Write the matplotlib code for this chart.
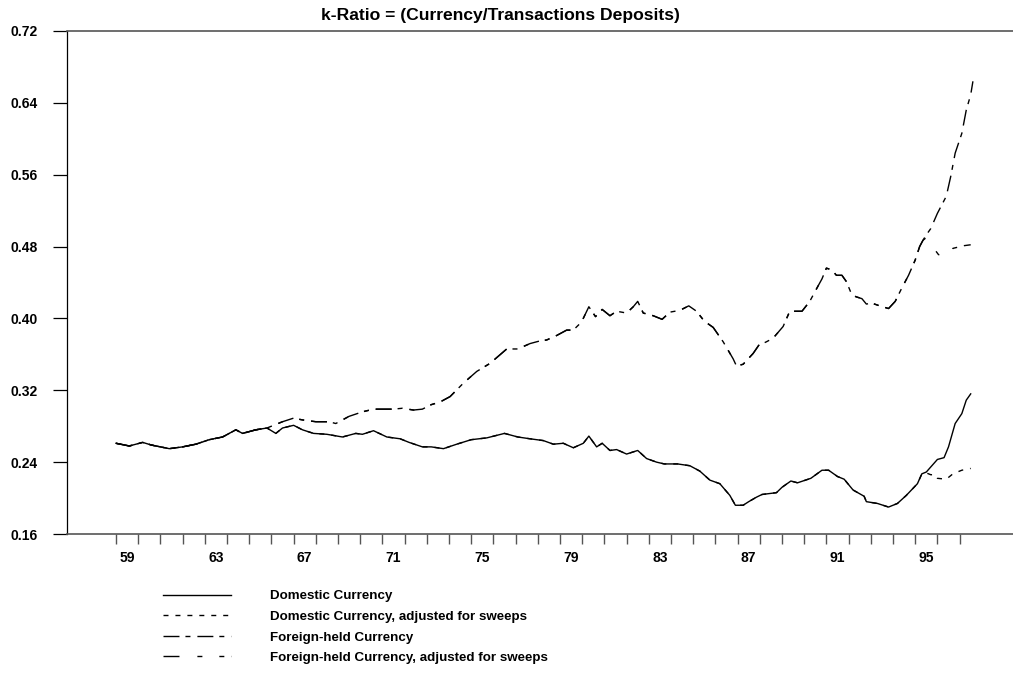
import matplotlib
matplotlib.use('Agg')
import matplotlib.pyplot as plt
import numpy as np

plt.rcParams['font.family'] = ['Liberation Sans', 'DejaVu Sans']
plt.rcParams['font.weight'] = 'bold'

# Domestic Currency (whole history)
dom_years = [59.0, 59.6, 60.2, 60.6, 61.0, 61.4, 62.0, 62.6, 63.2, 63.8, 64.4, 64.7,
             65.3, 65.8, 66.2, 66.5, 67.0, 67.4, 67.9, 68.5, 69.2, 69.8, 70.1, 70.6,
             71.2, 71.8, 72.2, 72.8, 73.2, 73.75, 74.35, 75.0, 75.7, 76.5, 77.1, 77.65,
             78.25, 78.7, 79.15, 79.6, 80.05, 80.3, 80.65, 80.9, 81.25, 81.55, 82.0, 82.5,
             82.9, 83.35, 83.7, 84.3, 84.85, 85.3, 85.75, 86.2, 86.65, 86.9, 87.25, 87.5,
             87.85, 88.1, 88.75, 89.0, 89.4, 89.7, 90.3, 90.8, 91.1, 91.5, 91.8, 92.2,
             92.7, 92.8, 93.3, 93.8, 94.2, 94.6, 95.1, 95.3, 95.5, 96.0, 96.3, 96.5,
             96.8, 97.1, 97.3, 97.5]
dom_vals = [0.261, 0.258, 0.262, 0.259, 0.257, 0.255, 0.257, 0.260, 0.265, 0.268, 0.276, 0.272,
            0.276, 0.278, 0.272, 0.278, 0.281, 0.276, 0.272, 0.271, 0.268, 0.272, 0.271, 0.275,
            0.268, 0.266, 0.262, 0.257, 0.257, 0.255, 0.260, 0.265, 0.267, 0.272, 0.268, 0.266,
            0.264, 0.260, 0.261, 0.256, 0.261, 0.269, 0.257, 0.261, 0.253, 0.254, 0.249, 0.253,
            0.244, 0.240, 0.238, 0.238, 0.236, 0.230, 0.220, 0.216, 0.203, 0.192, 0.192, 0.196,
            0.201, 0.204, 0.206, 0.212, 0.219, 0.217, 0.222, 0.231, 0.231, 0.224, 0.221, 0.209,
            0.202, 0.196, 0.194, 0.190, 0.194, 0.203, 0.216, 0.227, 0.229, 0.243, 0.245, 0.257,
            0.283, 0.294, 0.309, 0.316]

# Domestic Currency, adjusted for sweeps: departs after mid-1995
dom_adj_split = 95.3
dom_adj_tail_years = [95.5, 95.7, 95.9, 96.0, 96.4, 96.7, 97.1, 97.5]
dom_adj_tail_vals = [0.228, 0.226, 0.226, 0.222, 0.221, 0.227, 0.231, 0.233]

# Foreign-held Currency: same as domestic until 1965, then above
for_split = 65.8
for_years = [66.0, 66.5, 67.0, 67.4, 68.0, 68.6, 68.9, 69.5, 70.1, 70.6, 71.0, 71.5,
             71.9, 72.4, 72.8, 73.2, 73.6, 74.05, 74.65, 75.25, 75.85, 76.6, 77.1, 77.65,
             78.1, 78.4, 78.85, 79.3, 79.6, 79.97, 80.3, 80.6, 80.9, 81.25, 81.55, 82.0,
             82.3, 82.5, 82.75, 83.2, 83.6, 83.95, 84.4, 84.8, 85.15, 85.5, 85.9, 86.35,
             86.8, 86.95, 87.25, 87.7, 87.95, 88.3, 88.6, 89.05, 89.35, 89.9, 90.25, 90.6,
             90.8, 91.0, 91.25, 91.45, 91.7, 91.9, 92.15, 92.35, 92.6, 92.8, 93.05, 93.4,
             93.8, 94.1, 94.4, 94.7, 95.0, 95.2, 95.35, 95.5, 95.7, 96.0, 96.4, 96.6,
             96.8, 97.1, 97.3, 97.5, 97.6]
for_vals = [0.280, 0.285, 0.289, 0.287, 0.285, 0.285, 0.283, 0.291, 0.296, 0.299, 0.299, 0.299,
            0.300, 0.298, 0.299, 0.304, 0.307, 0.313, 0.328, 0.341, 0.350, 0.366, 0.366, 0.372,
            0.375, 0.376, 0.381, 0.387, 0.387, 0.396, 0.413, 0.402, 0.410, 0.403, 0.408, 0.406,
            0.413, 0.419, 0.406, 0.403, 0.399, 0.407, 0.409, 0.414, 0.408, 0.397, 0.390, 0.374,
            0.355, 0.347, 0.349, 0.361, 0.370, 0.374, 0.378, 0.391, 0.408, 0.408, 0.419, 0.435,
            0.444, 0.456, 0.454, 0.448, 0.448, 0.441, 0.426, 0.424, 0.422, 0.416, 0.417, 0.414,
            0.411, 0.419, 0.434, 0.448, 0.465, 0.480, 0.487, 0.493, 0.500, 0.517, 0.536, 0.558,
            0.584, 0.606, 0.632, 0.649, 0.664]

# Foreign-held Currency, adjusted for sweeps: departs after mid-1995
for_adj_split = 95.35
for_adj_tail_years = [95.5, 95.7, 95.9, 96.05, 96.5, 96.7, 97.2, 97.5]
for_adj_tail_vals = [0.490, 0.484, 0.476, 0.471, 0.470, 0.478, 0.481, 0.482]

labels = ['Domestic Currency',
          'Domestic Currency, adjusted for sweeps',
          'Foreign-held Currency',
          'Foreign-held Currency, adjusted for sweeps']
year_ticks = list(range(59, 98))
year_labels = ['59', '63', '67', '71', '75', '79', '83', '87', '91', '95']
y_ticks = [0.16, 0.24, 0.32, 0.40, 0.48, 0.56, 0.64, 0.72]

# build the composite series
dy = np.array(dom_years)
dv = np.array(dom_vals)
m = dy <= dom_adj_split
dadj_x = np.concatenate([dy[m], dom_adj_tail_years])
dadj_y = np.concatenate([dv[m], dom_adj_tail_vals])
m = dy <= for_split
fx = np.concatenate([dy[m], for_years])
fy = np.concatenate([dv[m], for_vals])
m = fx <= for_adj_split
fadj_x = np.concatenate([fx[m], for_adj_tail_years])
fadj_y = np.concatenate([fy[m], for_adj_tail_vals])

fig = plt.figure(figsize=(10.13, 6.85), dpi=100)
ax = fig.add_axes([67/1013, 151/685, 946/1013, 503/685])

lw = 1.0
ax.plot(dy, dv, color='black', lw=lw, label=labels[0])
ax.plot(dadj_x, dadj_y, color='black', lw=lw, dashes=(3.6, 5), label=labels[1])
ax.plot(fx, fy, color='black', lw=lw, dashes=(11.5, 4.3, 3.6, 5), label=labels[2])
ax.plot(fadj_x, fadj_y, color='black', lw=lw, dashes=(11.5, 12.9, 3.6, 12.2, 3.6, 5),
        label=labels[3])

ax.set_xlim(59 - 49/22.2, 59 + 897/22.2)
ax.set_ylim(0.16, 0.72)

ax.spines['right'].set_visible(False)
ax.spines['top'].set_color('#555555')
ax.spines['top'].set_linewidth(1.2)
ax.spines['bottom'].set_color('#555555')
ax.spines['bottom'].set_linewidth(1.2)
ax.spines['left'].set_linewidth(0.9)

ax.set_yticks(y_ticks)
ax.set_yticklabels(['%.2f' % v for v in y_ticks], fontsize=10, fontweight='bold')
ax.tick_params(axis='y', direction='out', length=10, width=0.9, pad=11)

ax.set_xticks(year_ticks)
ax.set_xticklabels([])
ax.tick_params(axis='x', which='major', direction='out', length=7, width=1, color='#555555')
ax.set_xticks([int(s) + 0.5 for s in year_labels], minor=True)
ax.set_xticklabels(year_labels, minor=True, fontsize=10, fontweight='bold')
ax.tick_params(axis='x', which='minor', length=0, pad=12)

fig.text(500/1013, 1 - 20/685, 'k-Ratio = (Currency/Transactions Deposits)',
         ha='center', va='baseline', fontsize=12.6, fontweight='bold')

ax.legend(loc='upper left', bbox_to_anchor=(163/1013, 1 - 590/685),
          bbox_transform=fig.transFigure, frameon=False,
          handlelength=5.1, handletextpad=2.9, labelspacing=0.62,
          borderpad=0, borderaxespad=0, prop={'weight': 'bold', 'size': 9.6})

fig.savefig('out.png', dpi=100)
